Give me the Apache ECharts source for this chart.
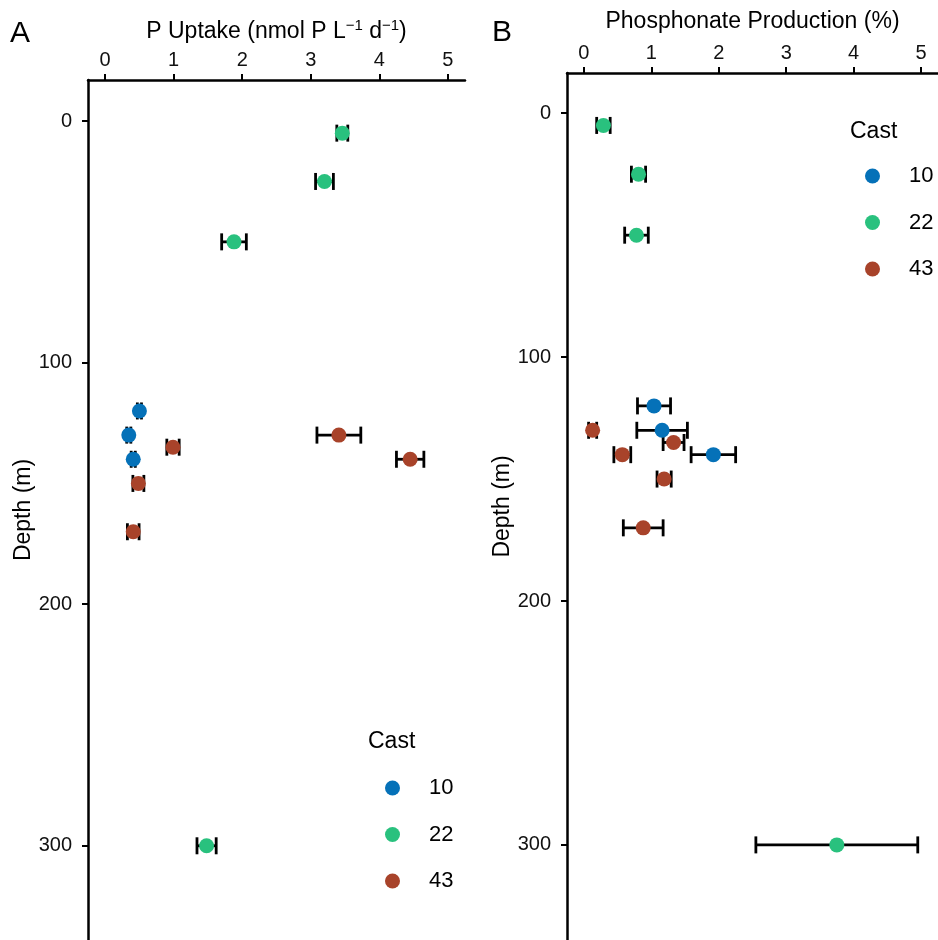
<!DOCTYPE html>
<html>
<head>
<meta charset="utf-8">
<script src="https://cdn.jsdelivr.net/npm/echarts@6/dist/echarts.min.js"></script>
<style>
  html, body { margin: 0; padding: 0; background: #fff; }
  #chart { width: 938px; height: 940px; }
</style>
</head>
<body>
<div id="chart"></div>
<script>
// casts and colours
const castNames = ['10', '22', '43'];
const castColors = ['#0571B8', '#29C17E', '#A8432A'];

// panel A: P uptake (nmol P L-1 d-1), value and half error width per depth
const uptakeDepth10 = [120, 130, 140];
const uptake10 = [0.50, 0.345, 0.41];
const uptakeErr10 = [0.03, 0.03, 0.03];
const uptakeDepth22 = [5, 25, 50, 300];
const uptake22 = [3.46, 3.20, 1.88, 1.48];
const uptakeErr22 = [0.08, 0.13, 0.18, 0.14];
const uptakeDepth43 = [130, 135, 140, 150, 170];
const uptake43 = [3.41, 0.99, 4.45, 0.485, 0.41];
const uptakeErr43 = [0.32, 0.09, 0.20, 0.08, 0.085];

// panel B: phosphonate production (%)
const phosDepth10 = [120, 130, 140];
const phos10 = [1.04, 1.16, 1.92];
const phosErr10 = [0.245, 0.375, 0.33];
const phosDepth22 = [5, 25, 50, 300];
const phos22 = [0.29, 0.81, 0.78, 3.75];
const phosErr22 = [0.10, 0.105, 0.175, 1.2];
const phosDepth43 = [130, 135, 140, 150, 170];
const phos43 = [0.13, 1.33, 0.57, 1.19, 0.88];
const phosErr43 = [0.06, 0.155, 0.125, 0.105, 0.295];

// tick labels
const xTicks = [0, 1, 2, 3, 4, 5];
const depthTicks = [0, 100, 200, 300];

const font = 'Liberation Sans, Arial, sans-serif';

const panelA = [
  [uptakeDepth10, uptake10, uptakeErr10],
  [uptakeDepth22, uptake22, uptakeErr22],
  [uptakeDepth43, uptake43, uptakeErr43]
];
const panelB = [
  [phosDepth10, phos10, phosErr10],
  [phosDepth22, phos22, phosErr22],
  [phosDepth43, phos43, phosErr43]
];

function errorBar(params, api) {
  const p1 = api.coord([api.value(0), api.value(2)]);
  const p2 = api.coord([api.value(1), api.value(2)]);
  const y = p1[1];
  const st = { stroke: '#000', lineWidth: 2.8 };
  const cap = 8.5;
  return {
    type: 'group',
    children: [
      { type: 'line', shape: { x1: p1[0], y1: y, x2: p2[0], y2: y }, style: st },
      { type: 'line', shape: { x1: p1[0], y1: y - cap, x2: p1[0], y2: y + cap }, style: st },
      { type: 'line', shape: { x1: p2[0], y1: y - cap, x2: p2[0], y2: y + cap }, style: st }
    ]
  };
}

function makeSeries(panel, idx) {
  const out = [];
  const bars = [];
  panel.forEach(function (p) {
    p[0].forEach(function (d, i) {
      bars.push([p[1][i] - p[2][i], p[1][i] + p[2][i], d]);
    });
  });
  out.push({
    type: 'custom',
    xAxisIndex: idx, yAxisIndex: idx,
    renderItem: errorBar,
    data: bars,
    z: 1,
    silent: true
  });
  panel.forEach(function (p, c) {
    out.push({
      name: castNames[c],
      type: 'scatter',
      xAxisIndex: idx, yAxisIndex: idx,
      symbolSize: 15,
      itemStyle: { color: castColors[c], opacity: 1 },
      data: p[0].map(function (d, i) { return [p[1][i], d]; }),
      z: 3
    });
  });
  return out;
}

const axisLine = { show: true, onZero: false, lineStyle: { color: '#000', width: 2.5 } };
const axisTick = { show: true, length: 6, lineStyle: { color: '#000', width: 2 } };

function xAxis(idx, name, gap) {
  return {
    type: 'value', gridIndex: idx, position: 'top',
    min: -0.25, max: 5.25,
    name: name, nameLocation: 'middle', nameGap: gap,
    nameTextStyle: {
      fontFamily: font, fontSize: 23, color: '#000',
      rich: {
        s: { fontFamily: font, fontSize: 15, color: '#000', verticalAlign: 'top', padding: [0, 0, 12, 0] }
      }
    },
    axisLine: axisLine,
    axisTick: Object.assign({ customValues: xTicks }, axisTick),
    axisLabel: { customValues: xTicks, fontFamily: font, fontSize: 20, color: '#111', margin: 10 },
    splitLine: { show: false }
  };
}

function yAxis(idx, min, max, gap) {
  return {
    type: 'value', gridIndex: idx, inverse: true,
    min: min, max: max,
    name: 'Depth (m)', nameLocation: 'middle', nameGap: gap, nameRotate: 90,
    nameTextStyle: { fontFamily: font, fontSize: 23, color: '#000' },
    axisLine: axisLine,
    axisTick: Object.assign({ customValues: depthTicks }, axisTick),
    axisLabel: { customValues: depthTicks, fontFamily: font, fontSize: 20, color: '#111', margin: 16 },
    splitLine: { show: false }
  };
}

function legend(left, top) {
  return {
    orient: 'vertical', left: left, top: top,
    data: castNames, icon: 'circle',
    itemWidth: 15, itemHeight: 15, itemGap: 24.5,
    selectedMode: false,
    textStyle: { fontFamily: font, fontSize: 22, lineHeight: 20, color: '#000', padding: [0, 0, 0, 24] }
  };
}

const chart = echarts.init(document.getElementById('chart'), null, { renderer: 'canvas' });

chart.setOption({
  backgroundColor: '#fff',
  animation: false,
  grid: [
    { left: 88, top: 80, width: 377, height: 860 },
    { left: 567, top: 73, width: 378, height: 867 }
  ],
  xAxis: [
    xAxis(0, 'P Uptake (nmol P L{s|\u22121} d{s|\u22121})', 35),
    xAxis(1, 'Phosphonate Production (%)', 40)
  ],
  yAxis: [
    yAxis(0, -17, 339, 45),
    yAxis(1, -16.5, 339, 42)
  ],
  legend: [legend(380, 772), legend(860, 160)],
  graphic: [
    { type: 'text', left: 10, top: 19, style: { text: 'A', fontFamily: font, fontSize: 30, fill: '#000' } },
    { type: 'text', left: 492, top: 18, style: { text: 'B', fontFamily: font, fontSize: 30, fill: '#000' } },
    { type: 'text', left: 368, top: 730, style: { text: 'Cast', fontFamily: font, fontSize: 23, fill: '#000' } },
    { type: 'text', left: 850, top: 120, style: { text: 'Cast', fontFamily: font, fontSize: 23, fill: '#000' } }
  ],
  series: makeSeries(panelA, 0).concat(makeSeries(panelB, 1))
});
</script>
</body>
</html>
